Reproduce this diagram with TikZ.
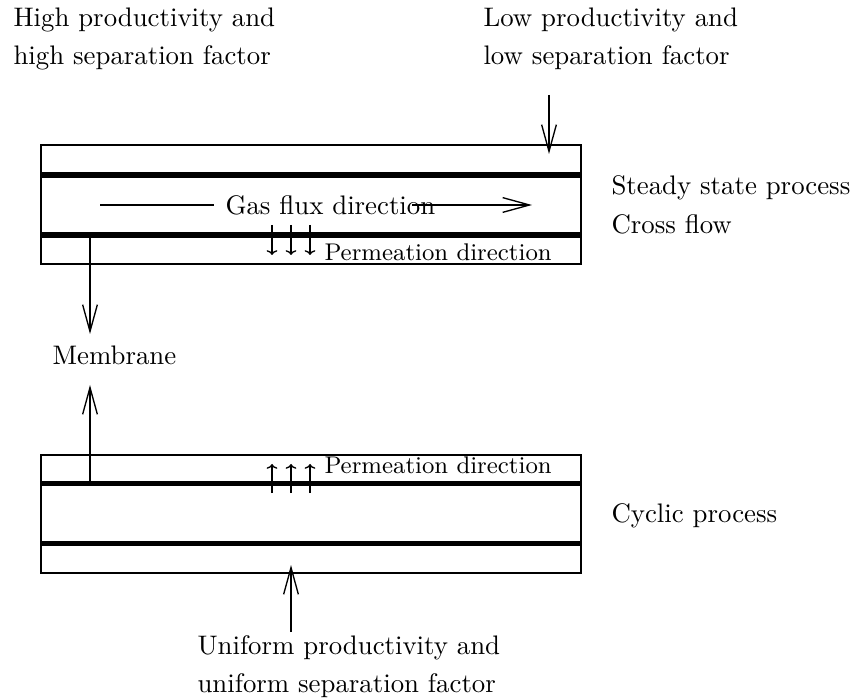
\documentclass[tikz,border=0pt]{standalone}
\usepackage{tikz}
\usetikzlibrary{arrows.meta, positioning}

\begin{document}
\begin{tikzpicture}[
    x=0.373pt, y=-0.373pt,
    txt/.style={anchor=base west, inner sep=0pt},
    smalltxt/.style={txt, font=\small},
    wall/.style={line width=0.5pt},
    membrane/.style={line width=2.2pt},
    flow/.style={line width=0.5pt, -{Straight Barb[length=10pt, width=5.5pt]}},
    perm/.style={line width=0.5pt, -{To[length=1.8pt, width=4pt]}},
]
\useasboundingbox (0,0) rectangle (854,699);

% ===== Labels =====
\node[txt] (high1) at (13,27) {High productivity and};
\node[txt] (high2) at (13,65) {high separation factor};
\node[txt] (low1) at (483,27) {Low productivity and};
\node[txt] (low2) at (483,65) {low separation factor};
\node[txt] (steady) at (611,195) {Steady state process};
\node[txt] (cross) at (611,234) {Cross flow};
\node[txt] (memb) at (52,365) {Membrane};
\node[txt] (cyclic) at (611,522) {Cyclic process};
\node[txt] (unif1) at (197,654) {Uniform productivity and};
\node[txt] (unif2) at (197,692) {uniform separation factor};

% ===== Top module: cross flow =====
\draw[wall] (41,145) rectangle (581,264);
\draw[membrane] (41,175) -- (581,175);
\draw[membrane] (41,235) -- (581,235);

\node[txt] (gas) at (225,215) {Gas flux direction};
\draw[wall] (100,205) -- (214,205);
\draw[flow] (412,205) -- (532,205);

\foreach \px in {272,291,310}
    \draw[perm] (\px,225) -- (\px,255);
\node[smalltxt] (permtop) at (324,261) {Permeation direction};

\coordinate (feedtop) at (549,95);
\draw[flow] (feedtop) -- (549,154);

% ===== Membrane pointers =====
\draw[flow] (90,235) -- (90,334);
\draw[flow] (90,483.5) -- (90,385);

% ===== Bottom module: cyclic =====
\draw[wall] (41,455) rectangle (581,573);
\draw[membrane] (41,483.5) -- (581,483.5);
\draw[membrane] (41,543.5) -- (581,543.5);

\foreach \px in {272,291,310}
    \draw[perm] (\px,493) -- (\px,464);
\node[smalltxt] (permbot) at (324,473) {Permeation direction};

\coordinate (feedbot) at (291,632);
\draw[flow] (feedbot) -- (291,565);

\end{tikzpicture}
\end{document}
